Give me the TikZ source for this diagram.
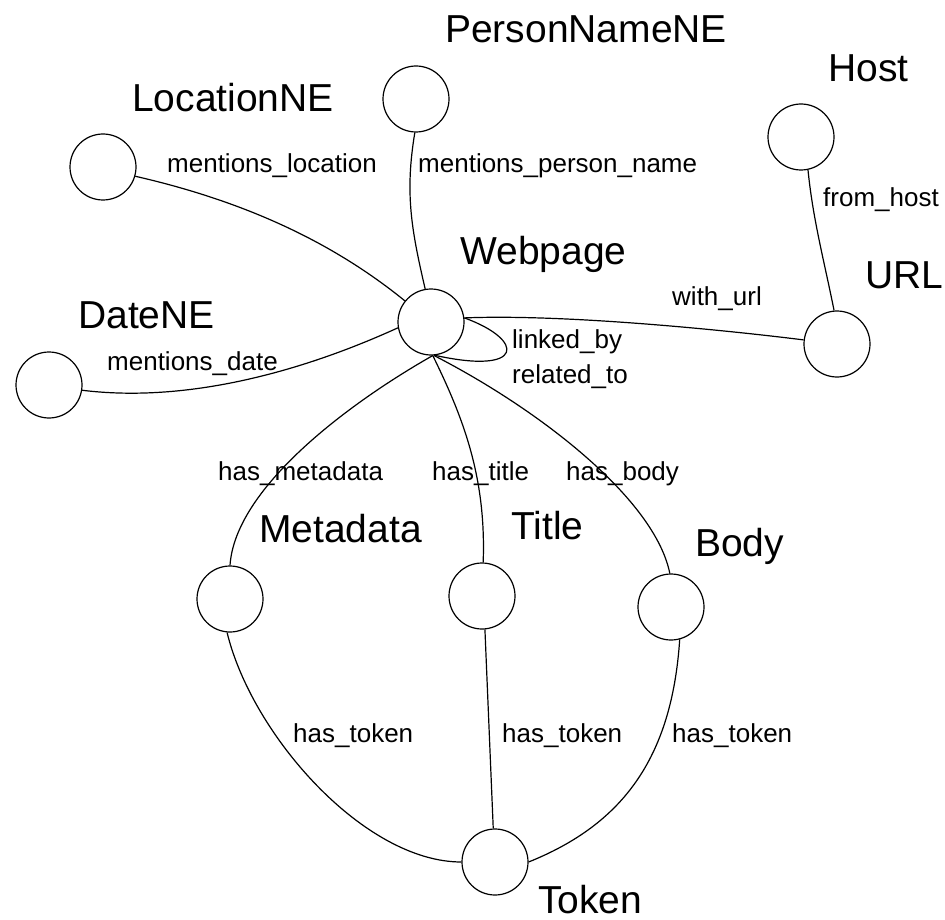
\documentclass[tikz,border=0pt]{standalone}
\usepackage{fontspec}
\setmainfont{Liberation Sans}
\begin{document}
\begin{tikzpicture}[x=1pt,y=-1pt,
  vtx/.style={circle,draw=black,line width=1.2pt,minimum size=66pt,inner sep=0pt},
  big/.style={anchor=base west,inner sep=0pt,font=\fontsize{39pt}{46pt}\selectfont},
  small/.style={anchor=base west,inner sep=0pt,font=\fontsize{26pt}{31pt}\selectfont},
  edge/.style={draw=black,line width=1.2pt}]
\useasboundingbox (0,0) rectangle (945,920);
% vertices
\node[vtx] (loc) at (103,167) {};
\node[vtx] (person) at (416,99) {};
\node[vtx] (host) at (801,137) {};
\node[vtx] (web) at (431,322) {};
\node[vtx] (url) at (837,344) {};
\node[vtx] (date) at (49,385) {};
\node[vtx] (meta) at (230,599) {};
\node[vtx] (title) at (482,596) {};
\node[vtx] (body) at (671,607) {};
\node[vtx] (token) at (495,862) {};
% vertex names
\node[big] (tperson) at (445,43) {PersonNameNE};
\node[big] (thost) at (828,82) {Host};
\node[big] (tloc) at (132,112) {LocationNE};
\node[big] (tweb) at (460,265) {Webpage};
\node[big] (turl) at (865,288) {URL};
\node[big] (tdate) at (78,328) {DateNE};
\node[big] (tmeta) at (259,542) {Metadata};
\node[big] (ttitle) at (511,539) {Title};
\node[big] (tbody) at (695,556) {Body};
\node[big] (ttoken) at (538,913) {Token};
% edges
\draw[edge] (loc.-16) .. controls +(105,24) and +(-75,-61) .. (web.141);
\draw[edge] (person.-92) .. controls +(-10,60) and +(-14,-60) .. (web.100);
\draw[edge] (web.7) .. controls +(100,-4) and +(-80,-10) .. (url.173);
\draw[edge] (host.-78) .. controls +(5,50) and +(-10,-50) .. (url.95);
\draw[edge] (date.-9) .. controls +(130,16) and +(-55,25) .. (web.190);
\draw[edge] (web.7) .. controls +(61,22) and +(90,20) .. (web.-83);
\draw[edge] (web.-87) .. controls +(-88,50) and +(5,-76) .. (meta.90);
\draw[edge] (web.-87) .. controls +(32,65) and +(3,-83) .. (title.88);
\draw[edge] (web.-85) .. controls +(107,55) and +(-15,-74) .. (body.92);
\draw[edge] (meta.-95) .. controls +(25,103) and +(-97,0) .. (token.180);
\draw[edge] (title.-85) -- (token.93);
\draw[edge] (body.-75) .. controls +(-8,121) and +(92,-37) .. (token.0);
% edge labels
\node[small] (lloc) at (167,173) {mentions\_location};
\node[small] (lperson) at (418,173) {mentions\_person\_name};
\node[small] (lhost) at (823,207) {from\_host};
\node[small] (lurl) at (672,305) {with\_url};
\node[small] (ldate) at (107,370) {mentions\_date};
\node[small] (llinked) at (512,348) {linked\_by};
\node[small] (lrelated) at (512,383) {related\_to};
\node[small] (lmeta) at (218,480) {has\_metadata};
\node[small] (ltitle) at (432,480) {has\_title};
\node[small] (lbody) at (566,480) {has\_body};
\node[small] (ltok1) at (293,742) {has\_token};
\node[small] (ltok2) at (502,742) {has\_token};
\node[small] (ltok3) at (672,742) {has\_token};
\end{tikzpicture}
\end{document}
